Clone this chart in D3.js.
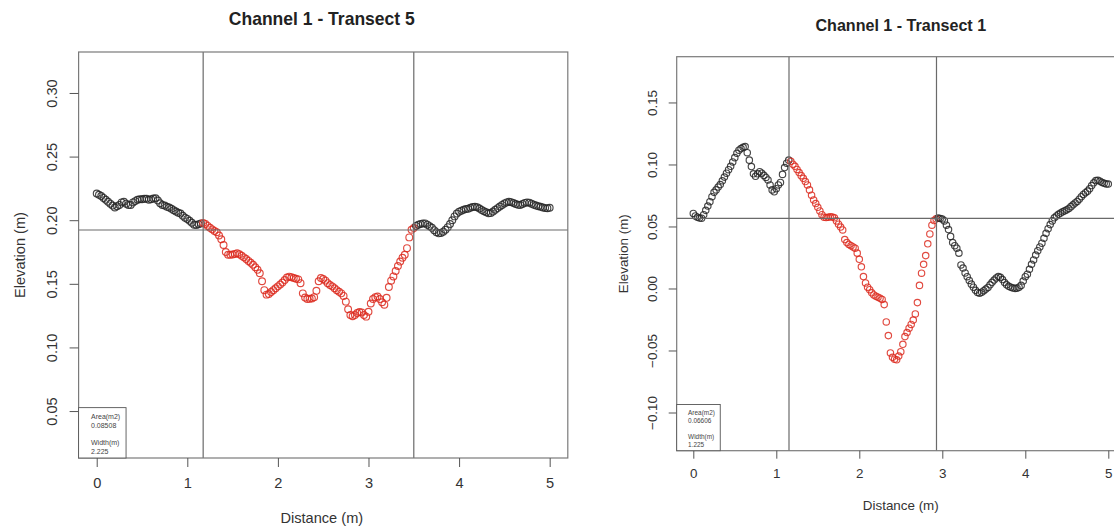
<!DOCTYPE html>
<html>
<head>
<meta charset="utf-8">
<script src="https://cdn.jsdelivr.net/npm/d3@7"></script>
<style>
  body { margin: 0; background: #fff; }
  text { font-family: "Liberation Sans", Arial, Helvetica, sans-serif; }
</style>
</head>
<body>
<svg id="drawing_region"></svg>
<script>
// sampling step along the transect (m)
const step = 0.025;

const xTicks = [0, 1, 2, 3, 4, 5];
const yTicks5 = [0.05, 0.10, 0.15, 0.20, 0.25, 0.30];
const yTicks1 = [-0.10, -0.05, 0.00, 0.05, 0.10, 0.15];

// Channel 1 - Transect 5 elevations (m), one every 0.025 m from 0 to 5
const elev5 = [
  0.221, 0.220, 0.219, 0.2175, 0.216, 0.2145, 0.213, 0.2115, 0.210, 0.211,
  0.212, 0.214, 0.2145, 0.213, 0.212, 0.212, 0.214, 0.215, 0.216, 0.2165,
  0.2165, 0.2168, 0.2168, 0.216, 0.2165, 0.217, 0.2172, 0.2155, 0.2133, 0.212,
  0.2115, 0.2105, 0.210, 0.209, 0.2078, 0.2068, 0.2058, 0.2052, 0.2035, 0.202,
  0.201, 0.1995, 0.198, 0.1965, 0.1963, 0.1968, 0.1975, 0.1978, 0.197, 0.1955,
  0.194, 0.1928, 0.1915, 0.1905, 0.188, 0.185, 0.1805, 0.175, 0.1728, 0.1728,
  0.173, 0.1735, 0.174, 0.1732, 0.172, 0.1708, 0.1695, 0.168, 0.1665, 0.165,
  0.163, 0.161, 0.1583, 0.152, 0.145, 0.1415, 0.142, 0.1435, 0.145, 0.1465,
  0.148, 0.1495, 0.151, 0.153, 0.155, 0.1556, 0.1552, 0.1545, 0.154, 0.1535,
  0.1505, 0.1425, 0.1392, 0.138, 0.1382, 0.1385, 0.1395, 0.1445, 0.152, 0.1545,
  0.1538, 0.1525, 0.1505, 0.149, 0.148, 0.1465, 0.145, 0.1438, 0.1425, 0.1405,
  0.136, 0.130, 0.1255, 0.1245, 0.1255, 0.127, 0.1278, 0.1275, 0.1255, 0.1242,
  0.128, 0.1345, 0.138, 0.1395, 0.140, 0.138, 0.1355, 0.1336, 0.139, 0.1475,
  0.1525, 0.1558, 0.160, 0.164, 0.1675, 0.1705, 0.1728, 0.178, 0.1865, 0.1925,
  0.1938, 0.1955, 0.1965, 0.197, 0.1975, 0.1975, 0.1965, 0.1952, 0.194, 0.1922,
  0.1905, 0.1897, 0.190, 0.191, 0.1925, 0.1945, 0.197, 0.200, 0.203, 0.2052,
  0.2067, 0.2075, 0.2082, 0.2088, 0.209, 0.2098, 0.2104, 0.2106, 0.2102, 0.2092,
  0.208, 0.207, 0.2062, 0.2055, 0.2056, 0.2068, 0.2082, 0.2095, 0.2108, 0.212,
  0.2132, 0.214, 0.2145, 0.2142, 0.2135, 0.2127, 0.2121, 0.212, 0.2128, 0.2136,
  0.214, 0.2138, 0.213, 0.2122, 0.2115, 0.211, 0.2105, 0.210, 0.2095, 0.2094,
  0.2098
];

// Channel 1 - Transect 1 elevations (m), one every 0.025 m from 0 to 5
const elev1 = [
  0.0605, 0.0585, 0.0575, 0.0568, 0.0567, 0.0595, 0.063, 0.0665, 0.070, 0.074,
  0.0775, 0.0795, 0.0818, 0.0838, 0.0868, 0.0898, 0.093, 0.0958, 0.0985, 0.102,
  0.1055, 0.109, 0.1115, 0.1128, 0.1138, 0.1144, 0.1095, 0.1035, 0.0983, 0.0925,
  0.0905, 0.0925, 0.0942, 0.093, 0.0912, 0.0895, 0.0875, 0.0835, 0.0795, 0.078,
  0.0805, 0.0835, 0.0855, 0.092, 0.0975, 0.101, 0.1035, 0.1025, 0.1002, 0.0985,
  0.096, 0.0935, 0.091, 0.0888, 0.0862, 0.0835, 0.0795, 0.0752, 0.0714, 0.0685,
  0.0655, 0.0625, 0.0595, 0.0575, 0.0572, 0.0574, 0.0578, 0.0576, 0.057, 0.0545,
  0.0518, 0.0495, 0.0472, 0.0395, 0.037, 0.0355, 0.0345, 0.0335, 0.0325, 0.0285,
  0.0235, 0.0175, 0.0096, 0.0045, 0.001, -0.001, -0.0035, -0.0052, -0.0062, -0.007,
  -0.0078, -0.0088, -0.013, -0.027, -0.038, -0.052, -0.0555, -0.057, -0.0575, -0.0545,
  -0.051, -0.045, -0.0388, -0.0355, -0.032, -0.029, -0.0255, -0.0205, -0.0114, 0.0025,
  0.0123, 0.0195, 0.0265, 0.036, 0.044, 0.051, 0.0548, 0.0562, 0.0568, 0.0565,
  0.056, 0.0545, 0.051, 0.0475, 0.042, 0.037, 0.0345, 0.0325, 0.0285, 0.019,
  0.0165, 0.0125, 0.0095, 0.0065, 0.0035, 0.001, -0.0015, -0.0032, -0.0038, -0.003,
  -0.0018, -0.0005, 0.0008, 0.003, 0.005, 0.0068, 0.0085, 0.0096, 0.009, 0.0072,
  0.0048, 0.003, 0.0018, 0.001, 0.0004, 0.0001, 0.0002, 0.001, 0.0025, 0.006,
  0.0095, 0.0115, 0.0155, 0.0195, 0.023, 0.027, 0.0305, 0.0335, 0.0365, 0.0405,
  0.0445, 0.0482, 0.0515, 0.0545, 0.057, 0.0585, 0.0598, 0.0608, 0.0618, 0.0626,
  0.0634, 0.0645, 0.066, 0.0675, 0.069, 0.0702, 0.072, 0.074, 0.0758, 0.0772,
  0.0785, 0.0805, 0.083, 0.0852, 0.087, 0.0872, 0.0865, 0.0855, 0.0848, 0.0843,
  0.0842
];

// bank positions (m) and bankfull level (m)
const banks5 = [1.175, 3.5];
const level5 = 0.1923;
const banks1 = [1.153, 2.93];
const level1 = 0.0565;

const legend5 = ["Area(m2)", "0.08508", "", "Width(m)", "2.225"];
const legend1 = ["Area(m2)", "0.06606", "", "Width(m)", "1.225"];

const svg = d3.select('#drawing_region')
    .attr('width', 1114)
    .attr('height', 529);

class TransectPlot {

    constructor( config, data ) {
        this.config = config;
        this.data = data;
        this.init();
    }

    init() {
        let self = this;
        let c = self.config;

        self.g = svg.append('g');

        self.xscale = d3.scaleLinear()
            .domain([-0.2, 5.2])
            .range([c.left, c.right]);

        self.yscale = d3.scaleLinear()
            .domain(c.ydomain)
            .range([c.bottom, c.top]);
    }

    render() {
        let self = this;
        let c = self.config;
        let fs = c.font;

        // points
        self.g.selectAll('circle')
            .data(self.data)
            .enter()
            .append('circle')
            .attr('cx', d => self.xscale(d.x))
            .attr('cy', d => self.yscale(d.y))
            .attr('r', c.radius)
            .attr('fill', 'none')
            .attr('stroke', d => (d.x >= c.banks[0] && d.x <= c.banks[1]) ? '#dc2a1f' : '#262626')
            .attr('stroke-opacity', 0.85)
            .attr('stroke-width', 1.15);

        // bank lines
        self.g.selectAll('.bank')
            .data(c.banks)
            .enter()
            .append('line')
            .attr('x1', d => self.xscale(d))
            .attr('x2', d => self.xscale(d))
            .attr('y1', c.top)
            .attr('y2', c.bottom)
            .attr('stroke', '#6a6a6a')
            .attr('stroke-width', 1.2);

        self.g.append('line')
            .attr('x1', c.left)
            .attr('x2', c.right)
            .attr('y1', self.yscale(c.level))
            .attr('y2', self.yscale(c.level))
            .attr('stroke', '#6a6a6a')
            .attr('stroke-width', 1.2);

        // frame
        self.g.append('rect')
            .attr('x', c.left)
            .attr('y', c.top)
            .attr('width', c.right - c.left)
            .attr('height', c.bottom - c.top)
            .attr('fill', 'none')
            .attr('stroke', '#7a7a7a')
            .attr('stroke-width', 1.2);

        // axes
        let xaxis = d3.axisBottom(self.xscale)
            .tickValues(xTicks)
            .tickFormat(d3.format('d'))
            .tickSize(c.tick)
            .tickPadding(c.font * 0.75);

        let xg = self.g.append('g')
            .attr('transform', `translate(0, ${c.bottom})`)
            .call(xaxis);
        xg.select('.domain').remove();
        xg.selectAll('line').attr('stroke', '#555');
        xg.selectAll('text')
            .attr('font-size', fs)
            .attr('fill', '#333');

        let yaxis = d3.axisLeft(self.yscale)
            .tickValues(c.yticks)
            .tickFormat(d3.format('.2f'))
            .tickSize(c.tick);

        let yg = self.g.append('g')
            .attr('transform', `translate(${c.left}, 0)`)
            .call(yaxis);
        yg.select('.domain').remove();
        yg.selectAll('line').attr('stroke', '#555');
        yg.selectAll('text')
            .attr('transform', 'rotate(-90)')
            .attr('x', 0)
            .attr('y', -c.tick - fs * 1.2)
            .attr('dy', 0)
            .attr('dominant-baseline', 'central')
            .attr('text-anchor', 'middle')
            .attr('font-size', fs)
            .attr('fill', '#333');

        // labels
        let cx = (c.left + c.frameRight) / 2;
        self.g.append('text')
            .attr('x', cx)
            .attr('y', c.titleY)
            .attr('text-anchor', 'middle')
            .attr('font-size', fs * 1.2)
            .attr('font-weight', 'bold')
            .attr('fill', '#222')
            .text(c.title);

        self.g.append('text')
            .attr('x', cx)
            .attr('y', c.bottom + fs * 4.45)
            .attr('text-anchor', 'middle')
            .attr('font-size', fs)
            .attr('fill', '#333')
            .text('Distance (m)');

        let ymid = (c.top + c.bottom) / 2;
        self.g.append('text')
            .attr('transform', `translate(${c.left - fs * 4.0}, ${ymid}) rotate(-90)`)
            .attr('text-anchor', 'middle')
            .attr('dominant-baseline', 'central')
            .attr('font-size', fs)
            .attr('fill', '#333')
            .text('Elevation (m)');

        // legend
        let lh = fs * 3.45;
        let lw = fs * 3.25;
        self.g.append('rect')
            .attr('x', c.left)
            .attr('y', c.bottom - lh)
            .attr('width', lw)
            .attr('height', lh)
            .attr('fill', '#fff')
            .attr('stroke', '#555')
            .attr('stroke-width', 0.9);

        self.g.selectAll('.leg')
            .data(c.legend)
            .enter()
            .append('text')
            .attr('x', c.left + fs * 0.85)
            .attr('y', (d, i) => c.bottom - lh + fs * 0.62 + i * fs * 0.6)
            .attr('dominant-baseline', 'central')
            .attr('font-size', fs * 0.48)
            .attr('fill', '#444')
            .text(d => d);
    }
}

const panels = [
    {
        title: 'Channel 1 - Transect 5',
        elev: elev5, banks: banks5, level: level5, legend: legend5,
        yticks: yTicks5, ydomain: [0.0131, 0.3322],
        left: 78.6, right: 567.8, frameRight: 565, top: 52, bottom: 458,
        titleY: 25, font: 14.6, tick: 9, radius: 3.4
    },
    {
        title: 'Channel 1 - Transect 1',
        elev: elev1, banks: banks1, level: level1, legend: legend1,
        yticks: yTicks1, ydomain: [-0.1308, 0.1869],
        left: 676.7, right: 1124.9, frameRight: 1124.9, top: 56.7, bottom: 450.7,
        titleY: 31, font: 13.4, tick: 8, radius: 3.2
    }
];

panels.forEach( p => {
    let data = p.elev.map( (v, i) => ({ x: i * step, y: v }) );
    const plot = new TransectPlot( p, data );
    plot.render();
});
</script>
</body>
</html>
